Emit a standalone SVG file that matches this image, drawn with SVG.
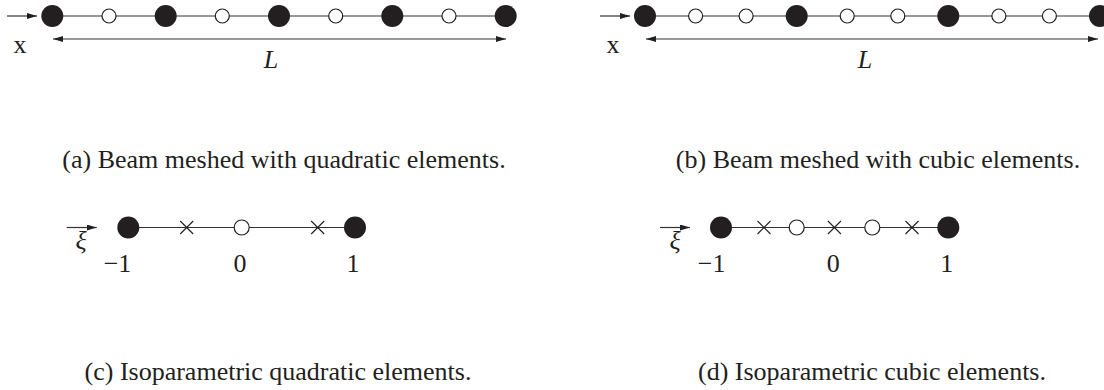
<svg xmlns="http://www.w3.org/2000/svg" width="1104" height="390" viewBox="0 0 1104 390">
  <defs>
    <marker id="ah" viewBox="0 0 10 6" refX="10" refY="3" markerWidth="10" markerHeight="6" markerUnits="userSpaceOnUse" orient="auto-start-reverse">
      <path d="M0,0 L10,3 L0,6 z" fill="#231f20"/>
    </marker>
    <g id="cross"><path d="M-6.5,-6.5 L6.5,6.5 M-6.5,6.5 L6.5,-6.5" stroke="#231f20" stroke-width="1.1" fill="none"/></g>
  </defs>
  <style>
    .ln { stroke: #333; stroke-width: 1.2; fill: none; }
    .ar { stroke: #333; stroke-width: 1.2; fill: none; marker-end: url(#ah); }
    .dim { stroke: #333; stroke-width: 1.2; fill: none; marker-start: url(#ah); marker-end: url(#ah); }
    .full { fill: #231f20; }
    .hol { fill: #fff; stroke: #231f20; stroke-width: 1.2; }
    .t { font-family: "Liberation Serif", "Times New Roman", serif; font-size: 26px; fill: #231f20; }
    .it { font-style: italic; }
    .mid { text-anchor: middle; }
  </style>
  <rect width="1104" height="390" fill="#fff"/>

  <g id="connectors">
    <line class="ar" x1="7" y1="16" x2="37" y2="16"/>
    <line class="ln" x1="52.3" y1="16" x2="505.7" y2="16"/>
    <line class="dim" x1="53" y1="39" x2="506" y2="39"/>
    <line class="ar" x1="600" y1="16" x2="630" y2="16"/>
    <line class="ln" x1="645" y1="16" x2="1100" y2="16"/>
    <line class="dim" x1="646" y1="39" x2="1098" y2="39"/>
    <line class="ar" x1="66.7" y1="227.5" x2="96.7" y2="227.5"/>
    <line class="ln" x1="128.3" y1="227.5" x2="355" y2="227.5"/>
    <line class="ar" x1="660" y1="227.5" x2="690" y2="227.5"/>
    <line class="ln" x1="721" y1="227.5" x2="948" y2="227.5"/>
  </g>

  <g id="panel-a">
    <circle class="full" cx="52.3" cy="16" r="11"/>
    <circle class="hol" cx="109" cy="16" r="7"/>
    <circle class="full" cx="165.7" cy="16" r="11"/>
    <circle class="hol" cx="222.3" cy="16" r="7"/>
    <circle class="full" cx="279" cy="16" r="11"/>
    <circle class="hol" cx="335.7" cy="16" r="7"/>
    <circle class="full" cx="392.3" cy="16" r="11"/>
    <circle class="hol" cx="449" cy="16" r="7"/>
    <circle class="full" cx="505.7" cy="16" r="11"/>
    <text class="t mid" x="20" y="53">x</text>
    <text class="t it mid" x="271" y="68">L</text>
    <text class="t mid" x="284" y="168">(a)  Beam meshed with quadratic elements.</text>
  </g>

  <g id="panel-b">
    <circle class="full" cx="645" cy="16" r="11"/>
    <circle class="hol" cx="695.6" cy="16" r="7"/>
    <circle class="hol" cx="746.1" cy="16" r="7"/>
    <circle class="full" cx="796.7" cy="16" r="11"/>
    <circle class="hol" cx="847.2" cy="16" r="7"/>
    <circle class="hol" cx="897.8" cy="16" r="7"/>
    <circle class="full" cx="948.3" cy="16" r="11"/>
    <circle class="hol" cx="998.9" cy="16" r="7"/>
    <circle class="hol" cx="1049.4" cy="16" r="7"/>
    <circle class="full" cx="1100" cy="16" r="11"/>
    <text class="t mid" x="613" y="53">x</text>
    <text class="t it mid" x="865" y="68">L</text>
    <text class="t mid" x="878" y="168">(b)  Beam meshed with cubic elements.</text>
  </g>

  <g id="panel-c">
    <text class="t it mid" x="81" y="249">ξ</text>
    <circle class="full" cx="128.3" cy="227.5" r="11"/>
    <use href="#cross" x="186.7" y="227.5"/>
    <circle class="hol" cx="241.7" cy="227.5" r="7.5"/>
    <use href="#cross" x="317.7" y="227.5"/>
    <circle class="full" cx="355" cy="227.5" r="11"/>
    <text class="t mid" x="117.5" y="272">−1</text>
    <text class="t mid" x="240" y="272">0</text>
    <text class="t mid" x="353" y="272">1</text>
    <text class="t mid" x="278" y="380">(c)  Isoparametric quadratic elements.</text>
  </g>

  <g id="panel-d">
    <text class="t it mid" x="675" y="249">ξ</text>
    <circle class="full" cx="721" cy="227.5" r="11"/>
    <use href="#cross" x="764" y="227.5"/>
    <circle class="hol" cx="796.7" cy="227.5" r="7.5"/>
    <use href="#cross" x="834.4" y="227.5"/>
    <circle class="hol" cx="872.3" cy="227.5" r="7.5"/>
    <use href="#cross" x="912" y="227.5"/>
    <circle class="full" cx="948.3" cy="227.5" r="11"/>
    <text class="t mid" x="711.7" y="272">−1</text>
    <text class="t mid" x="833.3" y="272">0</text>
    <text class="t mid" x="946.7" y="272">1</text>
    <text class="t mid" x="872" y="380">(d)  Isoparametric cubic elements.</text>
  </g>
</svg>
